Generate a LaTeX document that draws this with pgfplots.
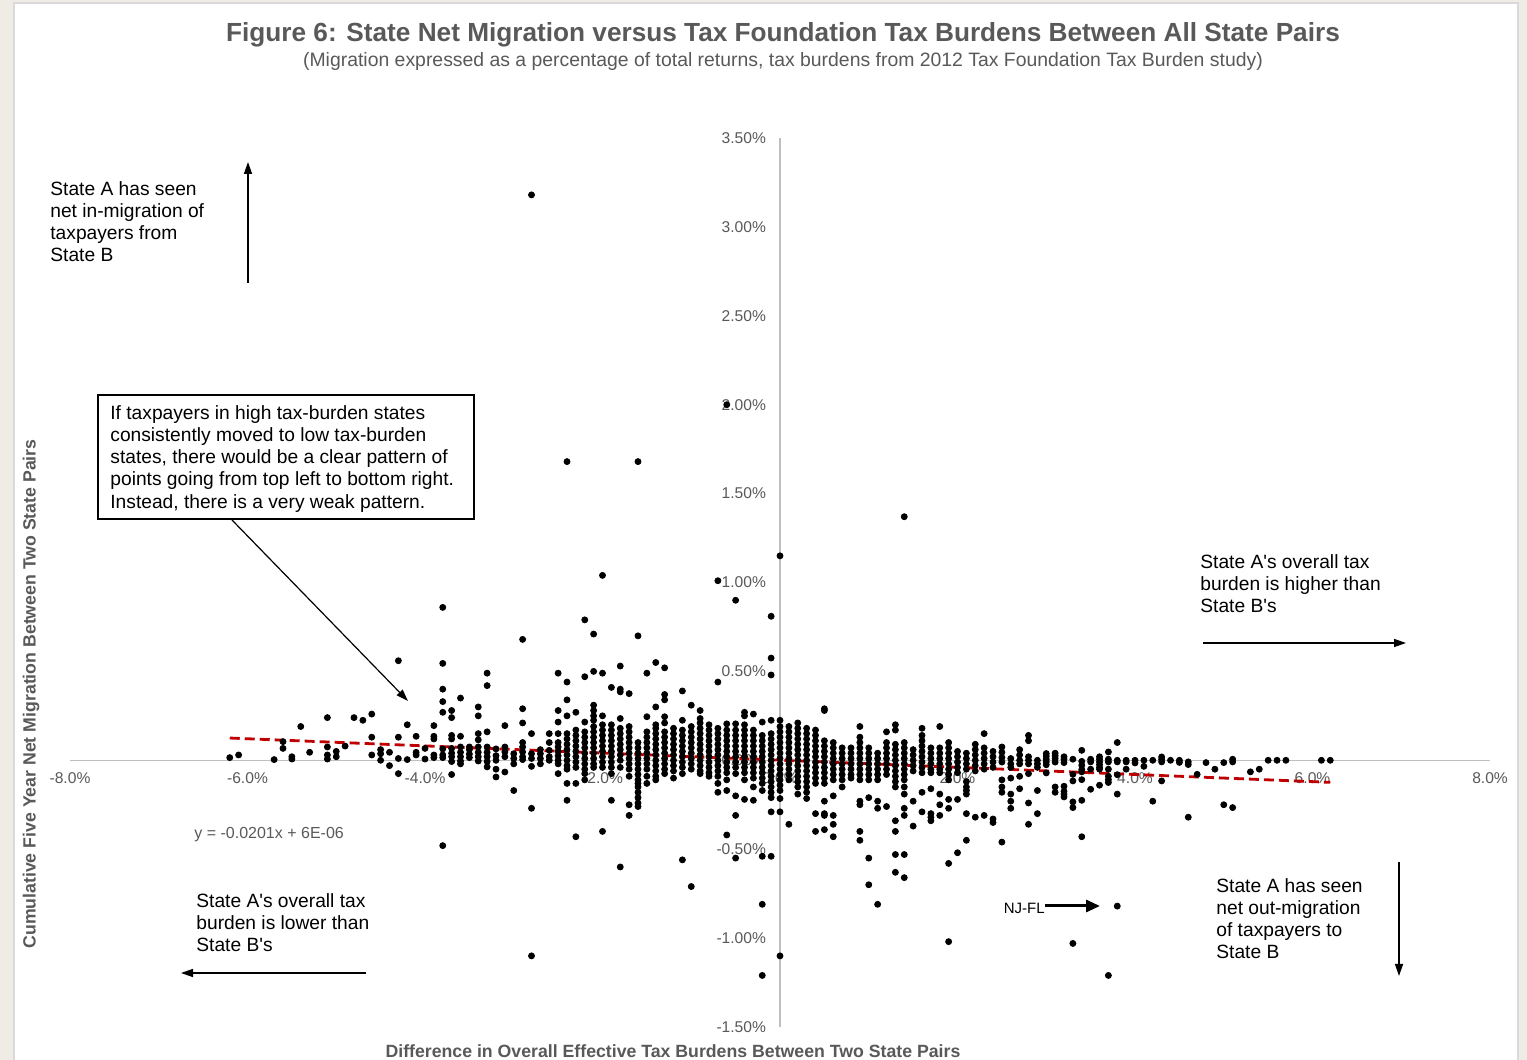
\documentclass[border=0pt]{standalone}
\usepackage{pgfplots}
\pgfplotsset{compat=1.18}
\usepackage{fontspec}
\setmainfont{Liberation Sans}[Ligatures=TeXOff]
\usetikzlibrary{arrows.meta}
\definecolor{bgbeige}{RGB}{238,236,228}
\definecolor{txtgray}{RGB}{89,89,89}
\definecolor{axgray}{RGB}{191,191,191}
\definecolor{trend}{RGB}{192,0,0}
\definecolor{panelborder}{RGB}{217,217,217}
\begin{document}
\begin{tikzpicture}
% background in pixel coordinates
\begin{scope}[x=0.5pt,y=-0.5pt,shift={(-35pt,513.5pt)}]
\fill[bgbeige] (0,0) rectangle (1527,1060);
\filldraw[fill=white,draw=panelborder,line width=0.8pt] (14,3) rectangle (1518,1075);
\end{scope}
\begin{axis}[
  at={(0,0)}, anchor=south west,
  scale only axis, width=710pt, height=444.5pt,
  xmin=-8, xmax=8, ymin=-1.5, ymax=3.5,
  enlargelimits=false, clip=false,
  axis lines=middle,
  axis line style={axgray, line width=0.6pt, -},
  hide obscured x ticks=false, hide obscured y ticks=false,
  major tick length=0pt,
  xtick={-8,-6,-4,-2,0,2,4,6,8},
  xticklabels={-8.0\%,-6.0\%,-4.0\%,-2.0\%,0.0\%,2.0\%,4.0\%,6.0\%,8.0\%},
  ytick={-1.5,-1,-0.5,0,0.5,1,1.5,2,2.5,3,3.5},
  yticklabels={-1.50\%,-1.00\%,-0.50\%,0.00\%,0.50\%,1.00\%,1.50\%,2.00\%,2.50\%,3.00\%,3.50\%},
  tick label style={font=\fontsize{7.8}{9}\selectfont, text=txtgray},
  xticklabel style={yshift=-2.5pt},
  yticklabel style={xshift=-3.5pt},
]
\addplot[only marks, mark=*, mark size=1.5pt, black] coordinates {
(-6.2,0.015)(-6.1,0.03)(-5.7,0.004)(-5.6,0.105)(-5.6,0.067)(-5.5,0.02)(-5.5,0.007)(-5.4,0.19)(-5.3,0.045)
(-5.1,0.24)(-5.1,0.075)(-5.1,0.03)(-5.1,0.007)(-5.0,0.05)(-5.0,0.02)(-4.9,0.08)(-4.8,0.24)(-4.7,0.225)
(-4.6,0.26)(-4.6,0.13)(-4.6,0.03)(-4.5,0.06)(-4.5,0.037)(-4.5,0.0)(-4.4,0.045)(-4.4,-0.03)
(-4.3,0.56)(-4.3,0.13)(-4.3,0.01)(-4.3,-0.075)(-4.2,0.2)(-4.2,0.004)(-4.1,0.135)(-4.1,0.045)(-4.1,0.03)
(-4.0,0.067)(-4.0,0.007)(-3.9,0.195)(-3.9,0.135)(-3.9,0.12)(-3.9,0.03)(-3.9,0.015)
(-3.8,0.86)(-3.8,0.545)(-3.8,0.40)(-3.8,0.33)(-3.8,0.27)(-3.8,0.064)(-3.8,0.03)(-3.8,0.015)(-3.8,-0.48)
(-3.7,0.28)(-3.7,0.24)(-3.7,0.14)(-3.7,0.12)(-3.7,0.067)(-3.7,0.04)(-3.7,0.02)(-3.7,-0.007)(-3.7,-0.08)
(-3.6,0.35)(-3.6,0.135)(-3.6,0.075)(-3.6,0.045)(-3.6,0.02)(-3.6,-0.004)(-3.6,-0.02)
(-3.5,0.075)(-3.5,0.06)(-3.5,0.035)(-3.5,0.015)
(-3.4,0.30)(-3.4,0.25)(-3.4,0.15)(-3.4,0.115)(-3.4,0.075)(-3.4,0.045)(-3.4,0.02)(-3.4,-0.004)
(-3.3,0.49)(-3.3,0.42)(-3.3,0.16)(-3.3,0.075)(-3.3,0.045)(-3.3,0.02)(-3.3,-0.007)(-3.3,-0.037)
(-3.2,0.064)(-3.2,0.026)(-3.2,0.0)(-3.2,-0.05)(-3.2,-0.094)
(-3.1,0.195)(-3.1,0.075)(-3.1,0.047)(-3.1,0.02)(-3.1,-0.066)
(-3.0,0.037)(-3.0,0.01)(-3.0,-0.02)(-3.0,-0.17)
(-2.9,0.68)(-2.9,0.29)(-2.9,0.21)(-2.9,0.10)(-2.9,0.075)(-2.9,0.047)(-2.9,0.02)(-2.9,0.004)
(-2.8,3.18)(-2.8,0.15)(-2.8,0.037)(-2.8,0.01)(-2.8,-0.034)(-2.8,-0.27)(-2.8,-1.10)
(-2.7,0.06)(-2.7,0.037)(-2.7,0.01)(-2.7,-0.02)
(-2.6,0.15)(-2.6,0.10)(-2.6,0.056)(-2.6,0.02)(-2.6,0.0)
(-2.5,0.49)(-2.5,0.28)(-2.5,0.215)(-2.5,0.15)(-2.5,0.10)(-2.5,0.075)(-2.5,0.05)(-2.5,0.025)(-2.5,0.0)(-2.5,-0.02)(-2.5,-0.075)
(-2.4,1.68)(-2.4,0.44)(-2.4,0.34)(-2.4,0.25)(-2.4,0.15)(-2.4,0.12)(-2.4,0.09)(-2.4,0.06)(-2.4,0.03)(-2.4,0.0)(-2.4,-0.03)(-2.4,-0.05)(-2.4,-0.13)(-2.4,-0.225)
(-2.3,0.27)(-2.3,0.17)(-2.3,0.14)(-2.3,0.11)(-2.3,0.08)(-2.3,0.05)(-2.3,0.02)(-2.3,-0.01)(-2.3,-0.04)(-2.3,-0.13)(-2.3,-0.43)
(-2.2,0.79)(-2.2,0.47)(-2.2,0.215)(-2.2,0.16)(-2.2,0.13)(-2.2,0.10)(-2.2,0.07)(-2.2,0.04)(-2.2,0.01)(-2.2,-0.02)(-2.2,-0.05)(-2.2,-0.075)(-2.2,-0.11)
(-2.1,0.71)(-2.1,0.50)(-2.1,0.31)(-2.1,0.28)(-2.1,0.25)(-2.1,0.225)(-2.1,0.19)(-2.1,0.16)(-2.1,0.13)(-2.1,0.10)(-2.1,0.07)(-2.1,0.04)(-2.1,0.01)(-2.1,-0.02)(-2.1,-0.04)
(-2.0,1.04)(-2.0,0.49)(-2.0,0.25)(-2.0,0.20)(-2.0,0.17)(-2.0,0.14)(-2.0,0.11)(-2.0,0.08)(-2.0,0.05)(-2.0,0.02)(-2.0,-0.01)(-2.0,-0.04)(-2.0,-0.40)
(-1.9,0.41)(-1.9,0.20)(-1.9,0.17)(-1.9,0.14)(-1.9,0.11)(-1.9,0.08)(-1.9,0.05)(-1.9,0.02)(-1.9,-0.01)(-1.9,-0.04)(-1.9,-0.075)(-1.9,-0.225)
(-1.8,0.53)(-1.8,0.40)(-1.8,0.385)(-1.8,0.235)(-1.8,0.18)(-1.8,0.15)(-1.8,0.12)(-1.8,0.09)(-1.8,0.06)(-1.8,0.03)(-1.8,0.0)(-1.8,-0.04)(-1.8,-0.60)
(-1.7,0.375)(-1.7,0.19)(-1.7,0.16)(-1.7,0.13)(-1.7,0.10)(-1.7,0.07)(-1.7,0.04)(-1.7,0.01)(-1.7,-0.02)(-1.7,-0.05)(-1.7,-0.09)(-1.7,-0.25)(-1.7,-0.31)
(-1.6,1.68)(-1.6,0.70)(-1.6,0.10)(-1.6,0.07)(-1.6,0.04)(-1.6,0.01)(-1.6,-0.02)(-1.6,-0.05)(-1.6,-0.08)(-1.6,-0.11)(-1.6,-0.13)(-1.6,-0.15)(-1.6,-0.18)(-1.6,-0.21)(-1.6,-0.24)(-1.6,-0.26)
(-1.5,0.49)(-1.5,0.245)(-1.5,0.16)(-1.5,0.13)(-1.5,0.10)(-1.5,0.07)(-1.5,0.04)(-1.5,0.01)(-1.5,-0.02)(-1.5,-0.05)(-1.5,-0.09)(-1.5,-0.13)
(-1.4,0.55)(-1.4,0.30)(-1.4,0.20)(-1.4,0.18)(-1.4,0.15)(-1.4,0.12)(-1.4,0.09)(-1.4,0.06)(-1.4,0.03)(-1.4,0.0)(-1.4,-0.03)(-1.4,-0.06)(-1.4,-0.09)(-1.4,-0.11)
(-1.3,0.52)(-1.3,0.37)(-1.3,0.34)(-1.3,0.245)(-1.3,0.21)(-1.3,0.16)(-1.3,0.13)(-1.3,0.10)(-1.3,0.07)(-1.3,0.04)(-1.3,0.01)(-1.3,-0.02)(-1.3,-0.05)(-1.3,-0.075)
(-1.2,0.18)(-1.2,0.15)(-1.2,0.12)(-1.2,0.09)(-1.2,0.06)(-1.2,0.03)(-1.2,0.0)(-1.2,-0.03)(-1.2,-0.06)(-1.2,-0.10)
(-1.1,0.39)(-1.1,0.225)(-1.1,0.17)(-1.1,0.14)(-1.1,0.11)(-1.1,0.08)(-1.1,0.05)(-1.1,0.02)(-1.1,-0.01)(-1.1,-0.04)(-1.1,-0.075)(-1.1,-0.56)
(-1.0,0.31)(-1.0,0.19)(-1.0,0.16)(-1.0,0.13)(-1.0,0.10)(-1.0,0.07)(-1.0,0.04)(-1.0,0.01)(-1.0,-0.02)(-1.0,-0.05)(-1.0,-0.71)
(-0.9,0.28)(-0.9,0.235)(-0.9,0.21)(-0.9,0.18)(-0.9,0.15)(-0.9,0.12)(-0.9,0.09)(-0.9,0.06)(-0.9,0.03)(-0.9,0.0)(-0.9,-0.03)(-0.9,-0.06)(-0.9,-0.075)
(-0.8,0.20)(-0.8,0.17)(-0.8,0.14)(-0.8,0.11)(-0.8,0.08)(-0.8,0.05)(-0.8,0.02)(-0.8,-0.01)(-0.8,-0.04)(-0.8,-0.07)(-0.8,-0.09)
(-0.7,1.01)(-0.7,0.44)(-0.7,0.18)(-0.7,0.15)(-0.7,0.12)(-0.7,0.09)(-0.7,0.06)(-0.7,0.03)(-0.7,0.0)(-0.7,-0.03)(-0.7,-0.06)(-0.7,-0.09)(-0.7,-0.13)(-0.7,-0.18)
(-0.6,2.0)(-0.6,0.205)(-0.6,0.17)(-0.6,0.14)(-0.6,0.11)(-0.6,0.08)(-0.6,0.05)(-0.6,0.02)(-0.6,-0.01)(-0.6,-0.04)(-0.6,-0.07)(-0.6,-0.11)(-0.6,-0.17)(-0.6,-0.42)
(-0.5,0.90)(-0.5,0.205)(-0.5,0.17)(-0.5,0.14)(-0.5,0.11)(-0.5,0.08)(-0.5,0.05)(-0.5,0.02)(-0.5,-0.01)(-0.5,-0.04)(-0.5,-0.075)(-0.5,-0.20)(-0.5,-0.31)(-0.5,-0.55)
(-0.4,0.27)(-0.4,0.25)(-0.4,0.20)(-0.4,0.17)(-0.4,0.14)(-0.4,0.11)(-0.4,0.08)(-0.4,0.05)(-0.4,0.02)(-0.4,-0.01)(-0.4,-0.04)(-0.4,-0.07)(-0.4,-0.11)(-0.4,-0.22)
(-0.3,0.26)(-0.3,0.17)(-0.3,0.14)(-0.3,0.11)(-0.3,0.08)(-0.3,0.05)(-0.3,0.02)(-0.3,-0.01)(-0.3,-0.04)(-0.3,-0.07)(-0.3,-0.10)(-0.3,-0.15)(-0.3,-0.225)
(-0.2,0.215)(-0.2,0.14)(-0.2,0.11)(-0.2,0.08)(-0.2,0.05)(-0.2,0.02)(-0.2,-0.01)(-0.2,-0.04)(-0.2,-0.07)(-0.2,-0.10)(-0.2,-0.13)(-0.2,-0.17)(-0.2,-0.54)(-0.2,-0.81)(-0.2,-1.21)
(-0.1,0.81)(-0.1,0.575)(-0.1,0.48)(-0.1,0.225)(-0.1,0.15)(-0.1,0.12)(-0.1,0.09)(-0.1,0.06)(-0.1,0.03)(-0.1,0.0)(-0.1,-0.03)(-0.1,-0.06)(-0.1,-0.09)(-0.1,-0.12)(-0.1,-0.15)(-0.1,-0.18)(-0.1,-0.21)(-0.1,-0.29)(-0.1,-0.54)
(0.0,1.15)(0.0,0.225)(0.0,0.19)(0.0,0.16)(0.0,0.13)(0.0,0.10)(0.0,0.07)(0.0,0.04)(0.0,0.01)(0.0,-0.02)(0.0,-0.05)(0.0,-0.08)(0.0,-0.11)(0.0,-0.14)(0.0,-0.17)(0.0,-0.215)(0.0,-0.29)(0.0,-1.10)
(0.1,0.19)(0.1,0.16)(0.1,0.13)(0.1,0.10)(0.1,0.07)(0.1,0.04)(0.1,0.01)(0.1,-0.02)(0.1,-0.05)(0.1,-0.08)(0.1,-0.11)(0.1,-0.36)
(0.2,0.21)(0.2,0.18)(0.2,0.15)(0.2,0.12)(0.2,0.09)(0.2,0.06)(0.2,0.03)(0.2,0.0)(0.2,-0.03)(0.2,-0.06)(0.2,-0.09)(0.2,-0.12)(0.2,-0.15)(0.2,-0.19)
(0.3,0.18)(0.3,0.15)(0.3,0.12)(0.3,0.09)(0.3,0.06)(0.3,0.03)(0.3,0.0)(0.3,-0.03)(0.3,-0.06)(0.3,-0.09)(0.3,-0.12)(0.3,-0.15)(0.3,-0.18)(0.3,-0.215)
(0.4,0.17)(0.4,0.14)(0.4,0.11)(0.4,0.08)(0.4,0.05)(0.4,0.02)(0.4,-0.01)(0.4,-0.04)(0.4,-0.07)(0.4,-0.10)(0.4,-0.13)(0.4,-0.30)(0.4,-0.40)
(0.5,0.29)(0.5,0.28)(0.5,0.11)(0.5,0.08)(0.5,0.05)(0.5,0.02)(0.5,-0.01)(0.5,-0.04)(0.5,-0.07)(0.5,-0.10)(0.5,-0.13)(0.5,-0.23)(0.5,-0.30)(0.5,-0.31)(0.5,-0.39)
(0.6,0.10)(0.6,0.07)(0.6,0.04)(0.6,0.01)(0.6,-0.02)(0.6,-0.05)(0.6,-0.08)(0.6,-0.11)(0.6,-0.20)(0.6,-0.31)(0.6,-0.36)(0.6,-0.43)
(0.7,0.07)(0.7,0.04)(0.7,0.01)(0.7,-0.02)(0.7,-0.05)(0.7,-0.08)(0.7,-0.11)(0.7,-0.15)
(0.8,0.07)(0.8,0.04)(0.8,0.01)(0.8,-0.02)(0.8,-0.05)(0.8,-0.08)(0.8,-0.10)
(0.9,0.19)(0.9,0.13)(0.9,0.10)(0.9,0.07)(0.9,0.04)(0.9,0.01)(0.9,-0.02)(0.9,-0.05)(0.9,-0.08)(0.9,-0.11)(0.9,-0.23)(0.9,-0.25)(0.9,-0.40)(0.9,-0.45)
(1.0,0.07)(1.0,0.04)(1.0,0.01)(1.0,-0.02)(1.0,-0.05)(1.0,-0.08)(1.0,-0.11)(1.0,-0.21)(1.0,-0.55)(1.0,-0.70)
(1.1,0.04)(1.1,0.01)(1.1,-0.02)(1.1,-0.05)(1.1,-0.08)(1.1,-0.11)(1.1,-0.23)(1.1,-0.27)(1.1,-0.81)
(1.2,0.16)(1.2,0.10)(1.2,0.07)(1.2,0.04)(1.2,0.01)(1.2,-0.02)(1.2,-0.05)(1.2,-0.08)(1.2,-0.26)
(1.3,0.20)(1.3,0.17)(1.3,0.09)(1.3,0.06)(1.3,0.03)(1.3,0.0)(1.3,-0.03)(1.3,-0.06)(1.3,-0.09)(1.3,-0.12)(1.3,-0.15)(1.3,-0.34)(1.3,-0.40)(1.3,-0.53)(1.3,-0.63)
(1.4,1.37)(1.4,0.10)(1.4,0.07)(1.4,0.04)(1.4,0.01)(1.4,-0.02)(1.4,-0.05)(1.4,-0.08)(1.4,-0.11)(1.4,-0.15)(1.4,-0.19)(1.4,-0.27)(1.4,-0.31)(1.4,-0.53)(1.4,-0.66)
(1.5,0.06)(1.5,0.03)(1.5,0.0)(1.5,-0.03)(1.5,-0.06)(1.5,-0.23)(1.5,-0.37)
(1.6,0.18)(1.6,0.14)(1.6,0.11)(1.6,0.08)(1.6,0.05)(1.6,0.02)(1.6,-0.01)(1.6,-0.04)(1.6,-0.07)(1.6,-0.18)(1.6,-0.29)
(1.7,0.07)(1.7,0.04)(1.7,0.01)(1.7,-0.02)(1.7,-0.05)(1.7,-0.07)(1.7,-0.16)(1.7,-0.30)(1.7,-0.32)(1.7,-0.34)
(1.8,0.19)(1.8,0.07)(1.8,0.04)(1.8,0.01)(1.8,-0.02)(1.8,-0.05)(1.8,-0.07)(1.8,-0.19)(1.8,-0.25)(1.8,-0.31)
(1.9,0.10)(1.9,0.07)(1.9,0.04)(1.9,0.01)(1.9,-0.02)(1.9,-0.05)(1.9,-0.08)(1.9,-0.11)(1.9,-0.22)(1.9,-0.27)(1.9,-0.58)(1.9,-1.02)
(2.0,0.05)(2.0,0.02)(2.0,-0.01)(2.0,-0.04)(2.0,-0.07)(2.0,-0.22)(2.0,-0.52)
(2.1,0.04)(2.1,0.01)(2.1,-0.02)(2.1,-0.05)(2.1,-0.12)(2.1,-0.15)(2.1,-0.17)(2.1,-0.19)(2.1,-0.30)(2.1,-0.45)
(2.2,0.09)(2.2,0.06)(2.2,0.03)(2.2,0.0)(2.2,-0.03)(2.2,-0.06)(2.2,-0.32)
(2.3,0.15)(2.3,0.07)(2.3,0.04)(2.3,0.01)(2.3,-0.02)(2.3,-0.05)(2.3,-0.31)
(2.4,0.05)(2.4,0.02)(2.4,-0.01)(2.4,-0.04)(2.4,-0.33)(2.4,-0.35)
(2.5,0.075)(2.5,0.045)(2.5,0.015)(2.5,-0.01)(2.5,-0.11)(2.5,-0.15)(2.5,-0.18)(2.5,-0.46)
(2.6,0.01)(2.6,-0.02)(2.6,-0.04)(2.6,-0.10)(2.6,-0.19)(2.6,-0.23)(2.6,-0.27)
(2.7,0.06)(2.7,0.03)(2.7,0.0)(2.7,-0.02)(2.7,-0.09)(2.7,-0.16)
(2.8,0.14)(2.8,0.11)(2.8,0.02)(2.8,0.0)(2.8,-0.02)(2.8,-0.075)(2.8,-0.24)(2.8,-0.36)
(2.9,0.0)(2.9,-0.02)(2.9,-0.04)(2.9,-0.17)(2.9,-0.30)
(3.0,0.038)(3.0,0.023)(3.0,0.006)(3.0,-0.009)(3.0,-0.025)(3.0,-0.071)
(3.1,0.04)(3.1,0.025)(3.1,0.01)(3.1,-0.01)(3.1,-0.15)(3.1,-0.18)
(3.2,0.02)(3.2,0.006)(3.2,-0.013)(3.2,-0.146)(3.2,-0.175)(3.2,-0.19)(3.2,-0.206)
(3.3,0.006)(3.3,-0.079)(3.3,-0.116)(3.3,-0.234)(3.3,-0.266)(3.3,-1.03)
(3.4,0.056)(3.4,-0.006)(3.4,-0.028)(3.4,-0.052)(3.4,-0.065)(3.4,-0.109)(3.4,-0.225)(3.4,-0.43)
(3.5,0.006)(3.5,-0.009)(3.5,-0.05)(3.5,-0.163)
(3.6,0.02)(3.6,0.006)(3.6,-0.009)(3.6,-0.024)(3.6,-0.04)(3.6,-0.05)(3.6,-0.14)
(3.7,0.047)(3.7,0.006)(3.7,-0.009)(3.7,-0.05)(3.7,-0.09)(3.7,-0.109)(3.7,-0.125)(3.7,-1.21)
(3.8,0.10)(3.8,0.0)(3.8,-0.009)(3.8,-0.081)(3.8,-0.19)(3.8,-0.82)
(3.9,0.0)(3.9,-0.009)(3.9,-0.05)(4.0,0.0)(4.0,-0.015)(4.1,0.0)(4.1,-0.034)(4.2,0.0)(4.2,-0.23)
(4.3,0.019)(4.3,0.006)(4.3,-0.009)(4.3,-0.116)(4.4,0.0)(4.5,0.0)(4.5,-0.012)
(4.6,-0.009)(4.6,-0.024)(4.6,-0.32)(4.7,-0.079)(4.8,-0.013)(4.9,-0.05)(5.0,-0.013)(5.0,-0.25)
(5.1,0.006)(5.1,-0.009)(5.1,-0.266)(5.3,-0.065)(5.4,-0.05)(5.5,0.0)(5.6,0.0)(5.7,0.0)(6.1,0.0)(6.2,0.0)
};
\addplot[trend, line width=1.4pt, dash pattern=on 5pt off 2.5pt] coordinates {(-6.2,0.1252) (6.2,-0.1240)};
\end{axis}
\begin{scope}[x=0.5pt,y=-0.5pt,shift={(-35pt,513.5pt)}]
\node[text=txtgray, font=\fontsize{13.1}{15}\selectfont\bfseries] at (783,35) {Figure 6: State Net Migration versus Tax Foundation Tax Burdens Between All State Pairs};
\node[text=txtgray, font=\fontsize{9.7}{11}\selectfont] at (783,61) {(Migration expressed as a percentage of total returns, tax burdens from 2012 Tax Foundation Tax Burden study)};
\node[text=txtgray, font=\fontsize{8.85}{10}\selectfont\bfseries] at (673,1051) {Difference in Overall Effective Tax Burdens Between Two State Pairs};
\node[text=txtgray, font=\fontsize{8.85}{10}\selectfont\bfseries, rotate=90] at (31,694) {Cumulative Five Year Net Migration Between Two State Pairs};
\tikzset{ann/.style={anchor=north west, inner sep=0pt, align=left, font=\fontsize{9.6}{11.1}\selectfont}}
\node[ann] at (50,181) {State A has seen\\net in-migration of\\taxpayers from\\State B};
\draw[line width=0.7pt,-{Triangle[length=6pt,width=4pt]}] (248,283) -- (248,162);
\draw[line width=0.6pt, fill=white] (98,395) rectangle (474,519);
\node[ann] at (110,405) {If taxpayers in high tax-burden states\\consistently moved to low tax-burden\\states, there would be a clear pattern of\\points going from top left to bottom right.\\Instead, there is a very weak pattern.};
\draw[line width=0.6pt,-{Triangle[length=6pt,width=4pt]}] (232,520) -- (408,701);
\node[ann] at (1200,554) {State A's overall tax\\burden is higher than\\State B's};
\draw[line width=0.7pt,-{Triangle[length=6pt,width=4pt]}] (1203,643) -- (1406,643);
\node[ann] at (196,893) {State A's overall tax\\burden is lower than\\State B's};
\draw[line width=0.7pt,-{Triangle[length=6pt,width=4pt]}] (366,973) -- (181,973);
\node[ann] at (1216,878) {State A has seen\\net out-migration\\of taxpayers to\\State B};
\draw[line width=0.7pt,-{Triangle[length=6pt,width=4pt]}] (1399,862) -- (1399,976);
\node[anchor=east, inner sep=0pt, font=\fontsize{7.5}{9}\selectfont] at (1045,908) {NJ-FL};
\draw[line width=1.5pt,-{Triangle[length=7pt,width=6pt]}] (1045,906) -- (1100,906);
\node[anchor=west, inner sep=0pt, text=txtgray, font=\fontsize{8}{9}\selectfont] at (194,835) {y = -0.0201x + 6E-06};
\pgfresetboundingbox
\path[use as bounding box] (0,0) rectangle (1527,1060);
\end{scope}
\end{tikzpicture}
\end{document}
